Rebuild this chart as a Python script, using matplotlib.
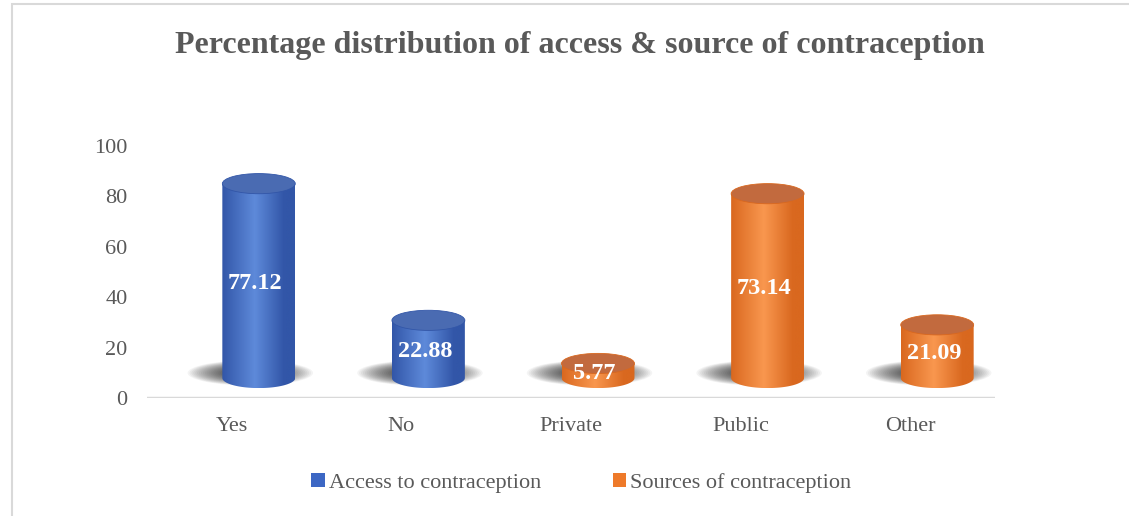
import numpy as np
import matplotlib
matplotlib.use('Agg')
import matplotlib.pyplot as plt
from matplotlib.patches import Ellipse, PathPatch, Rectangle, Patch
from matplotlib.path import Path
from matplotlib.colors import LinearSegmentedColormap

# chart data
categories = ['Yes', 'No', 'Private', 'Public', 'Other']
values = [77.12, 22.88, 5.77, 73.14, 21.09]
groups = ['access', 'access', 'source', 'source', 'source']
series_labels = ['Access to contraception', 'Sources of contraception']
yticks = [0, 20, 40, 60, 80, 100]

# edge / highlight / top / legend colours for each series
palette = {
    'access': ('#3256A8', '#5E8ADA', '#4A6BB2', '#3C67C4'),
    'source': ('#D9681F', '#F9974F', '#C26A3E', '#EE7A2A'),
}
gray = '#595959'
plt.rcParams['font.family'] = ['Liberation Serif', 'DejaVu Serif']

W, H = 1129, 516
def px(l, b, w, h):
    return [l / W, b / H, w / W, h / H]

fig = plt.figure(figsize=(W / 100, H / 100), dpi=100)

# main axes: ticks, category labels and the floor line
ax = fig.add_axes(px(147, 118, 848, 252))
ax.set_xlim(-0.5, len(categories) - 0.5)
ax.set_ylim(0, 100)
ax.set_yticks(yticks)
ax.set_xticks(range(len(categories)))
ax.set_xticklabels(categories)
ax.tick_params(length=0, labelsize=16, labelcolor=gray)
ax.tick_params(axis='y', pad=14)
ax.tick_params(axis='x', pad=14)
for s in ax.spines.values():
    s.set_visible(False)
ax.axhline(0, color='#D9D9D9', lw=2.5, zorder=1)

# cylinders sit in an offset axes to fake the 3d depth
# (ylim starts below 0 so the rounded base is not clipped)
ppu = 252 / 100
cyl = fig.add_axes(px(147 + 27, 118 + 20 - 10 * ppu, 848, 110 * ppu))
cyl.axis('off')
cyl.patch.set_visible(False)

w = 0.43   # cylinder width (data units)
eh = 8.0   # ellipse height (data units)
grad = np.linspace(0, 1, 256).reshape(1, -1)

for i, (v, g) in enumerate(zip(values, groups)):
    edge, light, top, _ = palette[g]
    cmap = LinearSegmentedColormap.from_list(
        'cyl', [(0, edge), (0.45, light), (0.85, edge), (1, edge)])

    # soft shadow under the base, pushed to the left
    for s in np.linspace(1.0, 0.3, 24):
        cyl.add_patch(Ellipse((i - 0.05, 2.0), 0.74 * s, 10 * s,
                              facecolor='black', edgecolor='none',
                              alpha=0.045, zorder=1))

    x0, x1 = i - w / 2, i + w / 2
    th = np.linspace(np.pi, 2 * np.pi, 60)
    verts = [(x0, v)] + list(zip(i + w / 2 * np.cos(th), eh / 2 * np.sin(th))) + [(x1, v), (x0, v)]
    body = PathPatch(Path(verts, closed=True), facecolor='none', edgecolor='none')
    cyl.add_patch(body)
    im = cyl.imshow(grad, extent=(x0, x1, -eh / 2, v), aspect='auto', cmap=cmap,
                    origin='lower', interpolation='bicubic', zorder=2)
    im.set_clip_path(body)

    cyl.add_patch(Ellipse((i, v), w, eh, facecolor=top, edgecolor=edge,
                          lw=0.6, zorder=3))

    cyl.text(i - 0.02, v / 2 - 1, f'{v:.2f}', ha='center', va='center',
             color='white', fontsize=17.5, fontweight='bold', zorder=4)

cyl.set_xlim(-0.5, len(categories) - 0.5)
cyl.set_ylim(-10, 100)

fig.text(580 / W, 1 - 45 / H,
         'Percentage distribution of access & source of contraception',
         ha='center', va='center', fontsize=23, fontweight='bold', color=gray)

handles = [Patch(facecolor=palette['access'][3]), Patch(facecolor=palette['source'][3])]
fig.legend(handles, series_labels, loc='center', bbox_to_anchor=(0.515, 1 - 483 / H),
           ncol=2, frameon=False, fontsize=16, labelcolor=gray,
           handlelength=0.6, handleheight=0.6, handletextpad=0.2, columnspacing=3.2)

# chart border
fig.add_artist(Rectangle((12 / W, -0.05), 1.2, 1 - 4 / H + 0.05,
                         transform=fig.transFigure, fill=False,
                         edgecolor='#D9D9D9', lw=1.5))

fig.savefig('out.png', dpi=100)
